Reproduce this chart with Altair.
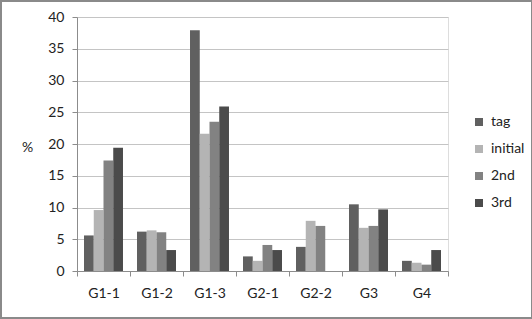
import altair as alt
import pandas as pd

groups = ["G1-1", "G1-2", "G1-3", "G2-1", "G2-2", "G3", "G4"]
series = ["tag", "initial", "2nd", "3rd"]
tag = [5.6, 6.2, 37.9, 2.3, 3.8, 10.5, 1.6]
initial = [9.6, 6.4, 21.6, 1.6, 7.9, 6.8, 1.3]
second = [17.4, 6.1, 23.5, 4.1, 7.1, 7.1, 1.0]
third = [19.4, 3.3, 25.9, 3.3, None, 9.7, 3.3]
colors = ["#606060", "#b4b4b4", "#828282", "#4b4b4b"]

rows = []
for name, vals in zip(series, [tag, initial, second, third]):
    for g, v in zip(groups, vals):
        if v is not None:
            rows.append({"group": g, "series": name, "value": v})
df = pd.DataFrame(rows)

W, H = 371, 254
FONT = "Lato"

bars = alt.Chart(df).mark_bar(size=9.75).encode(
    x=alt.X("group:N", sort=groups,
            scale=alt.Scale(paddingInner=0, paddingOuter=0),
            axis=alt.Axis(title=None, labelAngle=0, tickBand="extent",
                          grid=False, domainColor="#8c8c8c", tickColor="#8c8c8c",
                          tickSize=5, labelPadding=10, labelFontSize=14,
                          labelColor="#222222", labelFont=FONT)),
    xOffset=alt.XOffset("series:N", sort=series,
                        scale=alt.Scale(paddingInner=0, paddingOuter=0.72)),
    y=alt.Y("value:Q", scale=alt.Scale(domain=[0, 40], nice=False),
            axis=alt.Axis(values=[0, 5, 10, 15, 20, 25, 30, 35, 40],
                          title="%", titleAngle=0, titleX=-50, titleY=130,
                          titleAlign="center", titleBaseline="middle",
                          titleFontWeight="normal", titleFontSize=14, titleFont=FONT,
                          titleColor="#222222",
                          gridColor="#c4c4c4", gridWidth=1,
                          domainColor="#8c8c8c", tickColor="#8c8c8c", tickSize=5,
                          labelPadding=8, labelFontSize=14, labelFont=FONT,
                          labelColor="#222222")),
    color=alt.Color("series:N", sort=series,
                    scale=alt.Scale(domain=series, range=colors),
                    legend=alt.Legend(title=None, orient="none", legendX=395, legendY=98,
                                      symbolType="square", symbolSize=64,
                                      symbolStrokeWidth=0, labelFontSize=14,
                                      labelFont=FONT, labelColor="#222222",
                                      rowPadding=13, padding=0, labelOffset=5)),
)

frame = alt.Chart(pd.DataFrame({"a": [0]})).mark_rect(
    fill=None, stroke="#8a8a8a", strokeWidth=2
).encode(
    x=alt.value(-76), x2=alt.value(W + 84), y=alt.value(-16), y2=alt.value(H + 47)
)

chart = alt.layer(bars, frame).properties(
    width=W, height=H,
    autosize=alt.AutoSizeParams(type="none"),
    padding={"left": 77, "top": 17, "right": 84, "bottom": 48},
).configure_view(stroke=None).configure(background="white")

chart.save("out.html", embed_options={"renderer": "svg", "actions": False})
